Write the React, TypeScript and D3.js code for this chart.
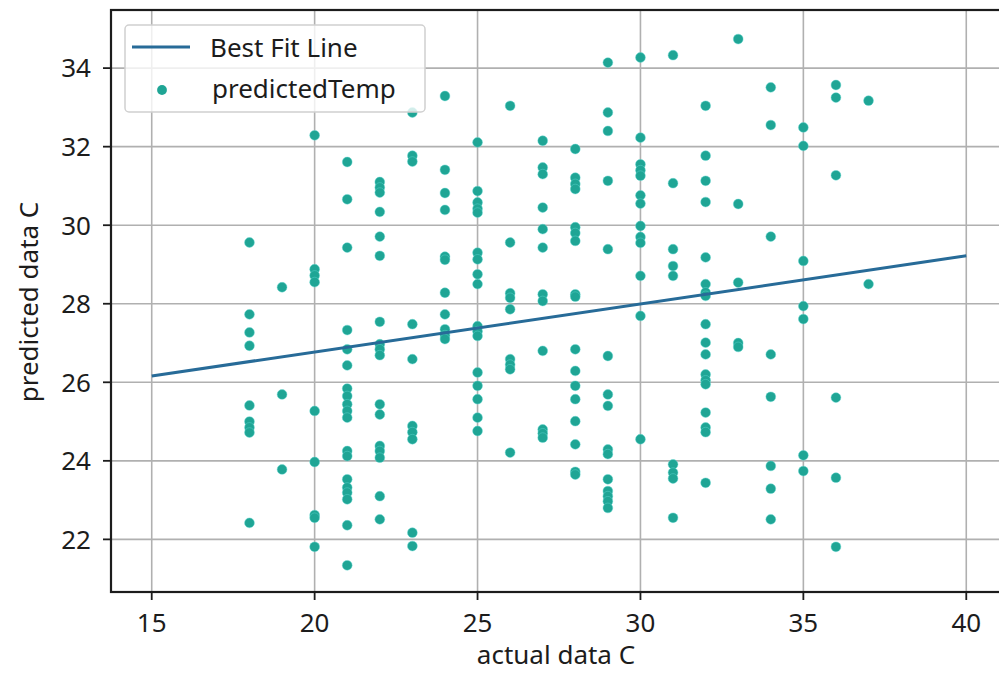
import * as d3 from "d3";

const actualTemps = [18, 19, 20, 21, 22, 23, 24, 25, 26, 27, 28, 29, 30, 31, 32, 33, 34, 35, 36, 37];
const predictedByActual = [
  [29.56, 27.73, 27.27, 26.93, 25.41, 25.0, 24.85, 24.72, 22.42],
  [28.42, 25.69, 23.78],
  [32.29, 28.88, 28.72, 28.55, 25.27, 23.97, 22.62, 22.55, 21.81],
  [31.61, 30.66, 29.43, 27.33, 26.84, 26.43, 25.84, 25.65, 25.44, 25.27, 25.1, 24.25, 24.12, 23.53, 23.32, 23.19, 23.02, 22.36, 21.34],
  [31.1, 30.96, 30.83, 30.34, 29.71, 29.22, 27.54, 26.97, 26.84, 26.69, 25.44, 25.18, 24.38, 24.25, 24.08, 23.1, 22.51],
  [32.87, 31.77, 31.62, 27.48, 26.59, 24.89, 24.73, 24.55, 22.17, 21.83],
  [33.29, 31.41, 30.82, 30.39, 29.2, 29.12, 28.28, 27.73, 27.35, 27.2, 27.1],
  [32.11, 30.87, 30.58, 30.42, 30.32, 29.3, 29.13, 28.75, 28.5, 27.43, 27.3, 27.18, 26.25, 25.91, 25.57, 25.1, 24.76],
  [33.04, 29.56, 28.27, 28.15, 27.86, 26.59, 26.45, 26.33, 24.21],
  [32.15, 31.47, 31.3, 30.45, 29.9, 29.43, 28.24, 28.07, 26.8, 24.8, 24.7, 24.59],
  [31.94, 31.21, 31.05, 30.92, 29.95, 29.8, 29.6, 28.24, 28.18, 26.84, 26.29, 25.91, 25.57, 25.01, 24.42, 23.72, 23.65],
  [34.14, 32.87, 32.4, 31.13, 29.39, 26.67, 25.69, 25.4, 24.29, 24.17, 23.53, 23.23, 23.1, 22.97, 22.8],
  [34.27, 32.23, 31.55, 31.4, 31.26, 30.76, 30.55, 29.98, 29.7, 29.55, 28.71, 27.69, 24.55],
  [34.33, 31.07, 29.39, 28.96, 28.71, 23.91, 23.7, 23.55, 22.55],
  [33.04, 31.77, 31.13, 30.59, 29.18, 28.5, 28.29, 28.2, 27.48, 27.01, 26.71, 26.2, 26.05, 25.95, 25.23, 24.85, 24.73, 23.44],
  [34.74, 30.54, 28.54, 27.0, 26.9],
  [33.51, 32.55, 29.71, 26.71, 25.63, 23.87, 23.29, 22.51],
  [32.49, 32.02, 29.09, 27.94, 27.61, 24.14, 23.74],
  [33.57, 33.25, 31.27, 25.61, 23.57, 21.81],
  [33.17, 28.5],
];

// best fit line endpoints
const fitX = [15, 40];
const fitY = [26.16, 29.22];

const xTicks = [15, 20, 25, 30, 35, 40];
const yTicks = [22, 24, 26, 28, 30, 32, 34];

const legendLabels = ["Best Fit Line", "predictedTemp"];

const W = 999;
const H = 673;
const FONT = "'Noto Sans', 'DejaVu Sans', sans-serif";
const DOT = "#1fa595";
const LINE = "#276b98";
const GRID = "#b0b0b0";
const INK = "#1c1c1c";

export default function App() {
  const x = d3.scaleLinear().domain([13.75, 41.25]).range([111, 1007]);
  const y = d3.scaleLinear().domain([20.66, 35.48]).range([592, 10]);

  const points = actualTemps.flatMap((a, i) =>
    predictedByActual[i].map((p) => ({ a, p }))
  );

  const line = d3
    .line<number>()
    .x((d) => x(d))
    .y((_, i) => y(fitY[i]));

  const left = x.range()[0];
  const right = x.range()[1];
  const top = y.range()[1];
  const bottom = y.range()[0];

  return (
    <svg
      width={W}
      height={H}
      style={{ position: "absolute", left: 0, top: 0, background: "#fff" }}
      fontFamily={FONT}
    >
      <rect width={W} height={H} fill="#fff" />
      {/* grid */}
      {xTicks.map((t) => (
        <line key={"gx" + t} x1={x(t)} x2={x(t)} y1={top} y2={bottom} stroke={GRID} strokeWidth={1.6} />
      ))}
      {yTicks.map((t) => (
        <line key={"gy" + t} x1={left} x2={right} y1={y(t)} y2={y(t)} stroke={GRID} strokeWidth={1.6} />
      ))}

      {/* scatter */}
      {points.map((d, i) => (
        <circle key={i} cx={x(d.a)} cy={y(d.p)} r={4.9} fill={DOT} stroke="#5fd8d0" strokeOpacity={0.45} strokeWidth={1} />
      ))}

      {/* fit line */}
      <path d={line(fitX) ?? ""} fill="none" stroke={LINE} strokeWidth={3} />

      {/* spines */}
      <rect x={left} y={top} width={right - left} height={bottom - top} fill="none" stroke={INK} strokeWidth={2.2} />

      {/* x ticks */}
      {xTicks.map((t) => (
        <g key={"tx" + t}>
          <line x1={x(t)} x2={x(t)} y1={bottom} y2={bottom + 8} stroke={INK} strokeWidth={1.8} />
          <text x={x(t)} y={632} fontSize={26} textAnchor="middle" fill={INK}>
            {t}
          </text>
        </g>
      ))}
      {/* y ticks */}
      {yTicks.map((t) => (
        <g key={"ty" + t}>
          <line x1={left - 8} x2={left} y1={y(t)} y2={y(t)} stroke={INK} strokeWidth={1.8} />
          <text x={91} y={y(t)} dy="0.36em" fontSize={26} textAnchor="end" fill={INK}>
            {t}
          </text>
        </g>
      ))}

      {/* axis labels */}
      <text x={556} y={664} fontSize={26} textAnchor="middle" fill={INK}>
        actual data C
      </text>
      <text transform="translate(38,302) rotate(-90)" fontSize={26} textAnchor="middle" fill={INK}>
        predicted data C
      </text>

      {/* legend */}
      <rect x={125} y={25} width={300} height={87} rx={4} fill="#fff" fillOpacity={0.8} stroke="#d0d0d0" strokeWidth={1.5} />
      <line x1={132} x2={190} y1={47} y2={47} stroke={LINE} strokeWidth={3} />
      <circle cx={162} cy={90} r={4.9} fill={DOT} />
      <text x={210} y={57} fontSize={26} fill={INK}>
        {legendLabels[0]}
      </text>
      <text x={212} y={98} fontSize={26} fill={INK}>
        {legendLabels[1]}
      </text>
    </svg>
  );
}
